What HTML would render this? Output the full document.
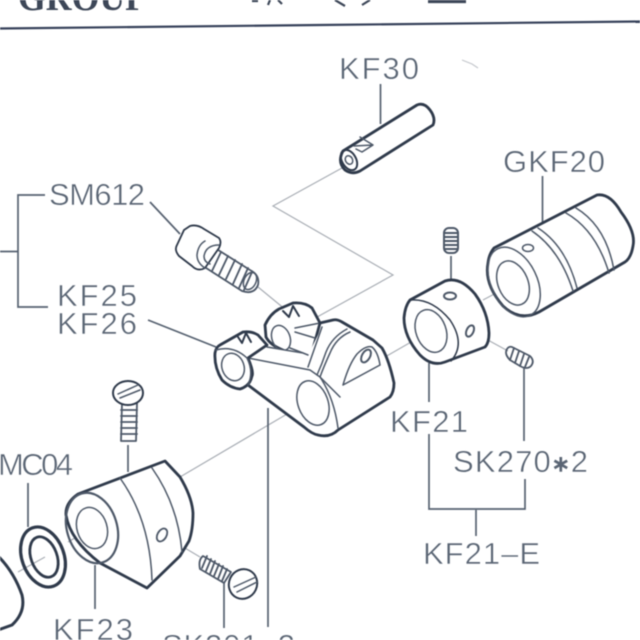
<!DOCTYPE html>
<html><head><meta charset="utf-8"><style>
html,body{margin:0;padding:0;background:#fff;width:640px;height:640px;overflow:hidden}
svg{display:block;filter:blur(.5px)}
text{font-family:"Liberation Sans",sans-serif;fill:#5a6574;font-size:31px;stroke:#fff;stroke-width:.5px}
.b{fill:#fff;stroke:#2f3a4b;stroke-width:2.8;stroke-linejoin:round;stroke-linecap:round}
.n{fill:none;stroke:#2f3a4b;stroke-width:2.8;stroke-linejoin:round;stroke-linecap:round}
.m{fill:none;stroke:#4d5868;stroke-width:1.5;stroke-linecap:round;stroke-linejoin:round}
.l{fill:none;stroke:#566170;stroke-width:1.7}
.g{fill:none;stroke:#a9aeb5;stroke-width:1.2}
</style></head><body>
<svg width="640" height="640" viewBox="0 0 640 640" xmlns="http://www.w3.org/2000/svg">
<rect width="640" height="640" fill="#fff"/>
<!-- header -->
<text x="18" y="10" textLength="129" lengthAdjust="spacingAndGlyphs" style="font-family:'Liberation Serif',serif;font-size:38px;fill:#3d4758;font-weight:bold;stroke:none">GROUP</text>
<path d="M0 28.500L320 25L640 21.500" fill="none" stroke="#36415a" stroke-width="2.200"/>
<path d="M252 1L258 1M270 0L268 5M278 0L282 4M335 0L345 6M370 0L362 5M428 0H466M428 2H466" fill="none" stroke="#3d4758" stroke-width="2.200"/>
<path d="M462 60L472 64L478 68" fill="none" stroke="#c4c7cc" stroke-width="1.200"/>

<!-- ghost / thin connector lines -->
<path class="g" d="M342 168L273 206L393 275L290 332"/>
<path class="g" d="M258 287L286 310"/>
<path class="g" d="M385 357L432 330"/>
<path class="g" d="M180 477L316 397"/>
<path class="g" d="M483 300L517 282"/>
<path class="g" d="M475 333L508 351"/>
<path class="g" d="M18 572L45 557M68 542L92 528"/>
<path class="g" d="M163 535L200 557"/>

<!-- brackets and leaders -->
<path class="l" d="M45 195H18V307H48M0 251.500H18"/>
<path class="l" d="M150 202L180 234"/>
<path class="l" d="M148 320L216 347"/>
<path class="l" d="M380.500 84V124"/>
<path class="l" d="M542.500 176V222"/>
<path class="l" d="M451 256V290"/>
<path class="l" d="M429 363V402M429 434V509H525V479M524 368V441M476 510V536"/>
<path class="l" d="M128 445V472"/>
<path class="l" d="M28 483V527"/>
<path class="l" d="M95 565V609"/>
<path class="l" d="M224 583V628"/>
<path class="l" d="M268 408V627"/>

<!-- KF30 pin -->
<path class="b" d="M343 151L417 105Q424 102 430 110Q436 118 433 125L360 171Q352 175 345 170Q337 162 343 151Z"/>
<ellipse class="n" cx="349" cy="160" rx="7" ry="11" transform="rotate(-30 349 160)" style="stroke-width:2"/>
<ellipse class="m" cx="349" cy="160" rx="3.500" ry="4.500" transform="rotate(-30 349 160)"/>
<path class="m" d="M354 146L373 145L362 152L356 149M360 137L373 145"/>

<!-- GKF20 -->
<path class="b" d="M494 248L597 195Q610 193 621 212Q636 232 633 246Q631 258 625 262L539 312Q520 322 503 306Q484 284 488 263Q489 254 494 248Z"/>
<ellipse class="m" cx="514" cy="282" rx="23" ry="37" transform="rotate(-26 514 282)"/>
<ellipse class="m" cx="513" cy="283" rx="15" ry="23" transform="rotate(-22 513 283)"/>
<path class="m" d="M532 231Q560 250 573 291M538 228Q566 246 577 288M566 213Q596 230 609 273M576 208Q606 226 614 270"/>
<ellipse class="m" cx="528" cy="248" rx="5.500" ry="3.500"/>

<!-- grub top -->
<rect class="m" x="444" y="228" width="14" height="25" rx="5" style="stroke-width:2"/>
<path class="m" d="M445 233H457M445 237H457M445 241H457M445 245H457M445 249H457" style="stroke-width:2"/>

<!-- KF21 collar -->
<path class="b" d="M410 300L445 281Q460 276 475 294Q488 312 489 333Q489 343 485 347L445 362Q432 367 420 355Q404 337 404 318Q405 306 410 300Z"/>
<path class="n" d="M410 300Q432 298 450 320Q466 344 451 361" style="stroke-width:1.500"/>
<ellipse class="m" cx="431" cy="331" rx="15" ry="22" transform="rotate(-20 431 331)"/>
<ellipse class="m" cx="450" cy="296" rx="6" ry="3.500" style="stroke-width:2"/>
<ellipse class="m" cx="470" cy="331" rx="3.500" ry="6" transform="rotate(25 470 331)" style="stroke-width:2"/>

<!-- side grub -->
<path class="m" d="M512 347L530 356Q535 361 531 366Q527 370 520 366L510 360Q504 354 507 349Q509 346 512 347Z" style="stroke-width:1.800"/>
<path class="m" d="M514 348L510 360M519 351L515 363M524 354L520 366M529 357L525 367" style="stroke-width:1.800"/>

<!-- SM612 screw -->
<path class="m" d="M207 243L250 270Q260 275 258 285Q254 295 242 291L203 266" style="stroke-width:1.800"/>
<path class="m" d="M214 248L205 266M221 252L212 271M228 256L219 275M235 260L226 279M242 264L233 284M248 268L239 288M252 272L244 290" style="stroke-width:1.800"/>
<ellipse class="m" cx="250" cy="281" rx="6" ry="9" transform="rotate(25 250 281)"/>
<path class="b" d="M184 230L190 226Q197 224 204 229L219 238Q222 242 219 248L205 268Q198 272 192 266L179 256Q174 250 177 245Z" style="stroke-width:1.800"/>
<path class="m" d="M205 241Q198 245 197 255Q197 263 205 268M219 245Q206 245 204 256Q204 262 210 264"/>

<!-- second ear -->
<path class="b" d="M265 325Q270 314 279 309L293 303Q305 302 312 308L320 323L308 367L283 350Q270 345 266 337Z"/>
<ellipse class="m" cx="281" cy="338" rx="9" ry="13" transform="rotate(-20 281 338)"/>
<path class="n" d="M283 311L289 317L293 306L299 316" style="stroke-width:2"/>
<path class="m" d="M295 328L320 323M295 332L315 338M290 348L303 353"/>

<!-- main body -->
<path d="M248 358L267 347L303 353L308 355L322 327L333 320L340 322L373 340L382 348L394 383L390 397L338 430L327 436L310 430L248 385Z" fill="#fff"/>
<path class="n" d="M320 323L333 320Q337 319 342 322L373 340L382 348Q389 360 394 383Q394 392 390 397L338 430Q330 438 318 435Q312 434 304 427L248 385"/>
<path class="m" d="M267 347L303 353L308 355"/>
<path class="m" d="M248 358L310 370L320 377"/>
<path class="m" d="M308 367L322 327"/>
<path class="m" d="M350 332Q336 338 330 353Q324 366 320 377L340 397"/>
<path class="m" d="M347 329Q332 337 326 352Q322 364 317 375"/>
<path class="m" d="M320 377Q334 398 338 428"/>
<ellipse class="m" cx="313" cy="403" rx="15" ry="23" transform="rotate(-20 313 403)"/>
<path class="m" d="M343 385L380 365M343 385Q349 364 357 354Q366 345 372 347Q378 352 380 365"/>
<ellipse class="m" cx="366" cy="356" rx="4" ry="7" transform="rotate(30 366 356)" style="stroke-width:2"/>

<!-- left ear -->
<path class="b" d="M215 353Q216 347 220 345L243 332Q252 331 258 335L267 345L248 358Q254 372 252 376Q250 386 240 389Q230 388 222 380Q214 367 215 353Z"/>
<ellipse class="m" cx="233" cy="367" rx="11" ry="14" transform="rotate(-20 233 367)"/>
<path class="m" d="M216 350Q233 345 247 358Q254 372 248 385"/>
<path class="n" d="M238 337L242 343L246 333L251 342" style="stroke-width:2"/>

<!-- vertical screw -->
<path class="m" d="M122 403L121 441H136L137 403" style="stroke-width:1.800"/>
<path class="m" d="M121 410H137M121 416H137M121 422H137M121 428H137M121 434H137" style="stroke-width:1.800"/>
<ellipse class="b" cx="128" cy="393" rx="15" ry="12" style="stroke-width:2"/>
<path class="m" d="M118 394L138 385M120 398L140 390"/>

<!-- KF23 -->
<path class="b" d="M78 494L165 461L180 477Q192 497 193 513Q193 530 189 541L180 556L147 588L100 563Q70 540 66 515Q65 503 78 494Z"/>
<ellipse class="m" cx="92" cy="528" rx="25" ry="36" transform="rotate(-17 92 528)" style="stroke-width:2.200"/>
<ellipse class="m" cx="92" cy="528" rx="15" ry="21" transform="rotate(-17 92 528)"/>
<path class="m" d="M120 478Q150 520 152 580M152 468Q178 505 182 552"/>
<ellipse class="m" cx="162" cy="535" rx="4.500" ry="7" transform="rotate(30 162 535)" style="stroke-width:1.800"/>

<!-- MC04 washer -->
<ellipse class="n" cx="43" cy="557" rx="21" ry="31" transform="rotate(-20 43 557)" style="stroke-width:3.200"/>
<ellipse class="n" cx="44" cy="557" rx="13" ry="21" transform="rotate(-20 44 557)"/>

<!-- bottom-left part -->
<path class="n" d="M-2 556Q14 572 22 595Q26 612 12 625L-2 630" style="stroke-width:3"/>

<!-- lower screw -->
<path class="m" d="M203 556L231 572L224 583L200 569Q198 560 203 556Z" style="stroke-width:1.800"/>
<path class="m" d="M207 556L202 568M211 559L206 571M215 561L210 574M219 564L214 576M223 566L218 579M227 569L222 581" style="stroke-width:1.800"/>
<ellipse class="b" cx="243" cy="584" rx="14" ry="15" transform="rotate(25 243 584)" style="stroke-width:2"/>
<path class="m" d="M234 587L256 577M237 592L257 582"/>

<!-- labels -->
<text x="49" y="205" textLength="96">SM612</text>
<text x="57" y="306" textLength="80">KF25</text>
<text x="57" y="334" textLength="80">KF26</text>
<text x="339" y="79" textLength="80">KF30</text>
<text x="503" y="172" textLength="102">GKF20</text>
<text x="390" y="432" textLength="78">KF21</text>
<text x="453" y="472" textLength="135">SK270<tspan style="font-size:21px">✱</tspan>2</text>
<text x="423" y="564" textLength="117">KF21–E</text>
<text x="-2" y="475" textLength="75">MC04</text>
<text x="53" y="640" textLength="80">KF23</text>
<text x="162" y="656" textLength="133">SK201<tspan style="font-size:21px">✱</tspan>2</text>
</svg>
</body></html>
